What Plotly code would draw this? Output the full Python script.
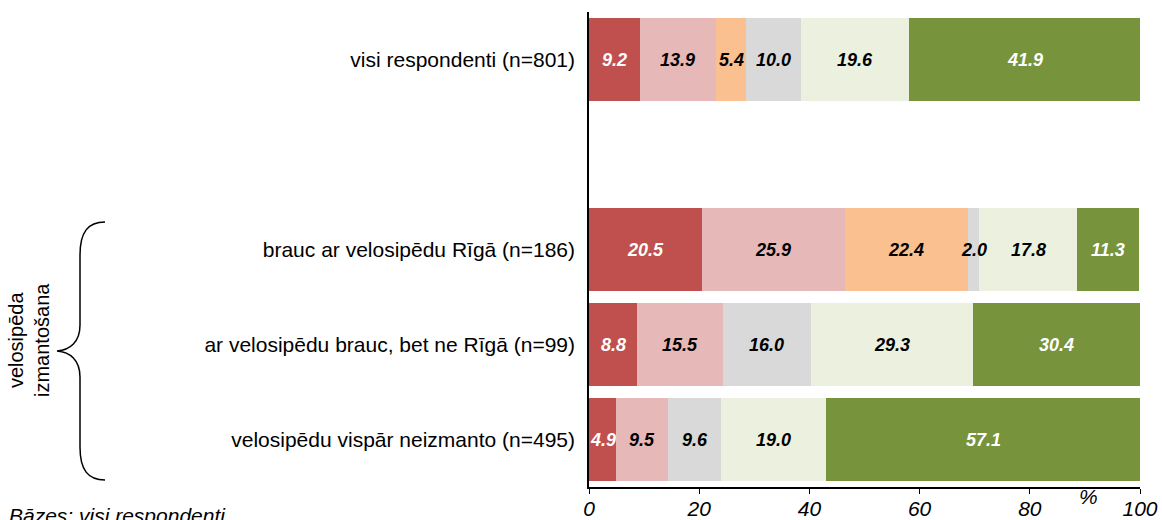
import plotly.graph_objects as go

categories = ["visi respondenti (n=801)", "", "brauc ar velosipēdu Rīgā (n=186)",
              "ar velosipēdu brauc, bet ne Rīgā (n=99)", "velosipēdu vispār neizmanto (n=495)"]
red = [9.2, None, 20.5, 8.8, 4.9]
pink = [13.9, None, 25.9, 15.5, 9.5]
orange = [5.4, None, 22.4, 0.0, 0.0]
gray = [10.0, None, 2.0, 16.0, 9.6]
lightgreen = [19.6, None, 17.8, 29.3, 19.0]
green = [41.9, None, 11.3, 30.4, 57.1]
x_ticks = [0, 20, 40, 60, 80, 100]

series = [(red, "#C0504D", "white"), (pink, "#E6B9B8", "black"), (orange, "#FAC090", "black"),
          (gray, "#D9D9D9", "black"), (lightgreen, "#EBF1DE", "black"), (green, "#77933C", "white")]

W, H = 1162, 520
ml, mr, mt, mb = 589, 22, 12, 33
pw, ph = W - ml - mr, H - mt - mb

ypos = [4, 3, 2, 1, 0]

fig = go.Figure()
annotations = []
cum = [0.0] * len(categories)
for vals, col, tcol in series:
    xs = [v if v is not None else 0 for v in vals]
    fig.add_trace(go.Bar(y=ypos, x=xs, orientation="h", marker=dict(color=col, line=dict(width=0)),
                         width=0.87, showlegend=False, hoverinfo="x"))
    for i, v in enumerate(vals):
        if v:
            annotations.append(dict(x=cum[i] + v / 2, y=ypos[i], xref="x", yref="y",
                                    text=f"<b><i>{v:.1f}</i></b>", showarrow=False,
                                    font=dict(family="Liberation Sans", size=18, color=tcol)))
            cum[i] += v


def px(x, y):
    return (x - ml) / pw, (H - mb - y) / ph


def P(x, y):
    a, b = px(x, y)
    return f"{a:.5f},{b:.5f}"


brace = ("M " + P(105, 222) + " C " + P(88, 222) + " " + P(80, 232) + " " + P(80, 255) +
         " L " + P(80, 325) + " C " + P(80, 342) + " " + P(70, 350) + " " + P(57, 351) +
         " C " + P(70, 352) + " " + P(80, 360) + " " + P(80, 377) +
         " L " + P(80, 447) + " C " + P(80, 470) + " " + P(88, 480) + " " + P(105, 480))

fig.add_shape(type="path", path=brace, xref="paper", yref="paper",
              line=dict(color="black", width=1.5))

tx, ty = px(29, 340)
annotations.append(dict(x=tx, y=ty, xref="paper", yref="paper", text="velosipēda<br>izmantošana",
                        showarrow=False, textangle=-90, xanchor="center", yanchor="middle",
                        font=dict(family="Liberation Sans", size=20, color="black")))
bx, by = px(7, 502)
annotations.append(dict(x=bx, y=by, xref="paper", yref="paper", text="<i>Bāzes: visi respondenti</i>",
                        showarrow=False, xanchor="left", yanchor="top",
                        font=dict(family="Liberation Sans", size=21, color="black")))
px_, py_ = px(1088, 496)
annotations.append(dict(x=px_, y=py_, xref="paper", yref="paper", text="<i>%</i>",
                        showarrow=False, xanchor="center", yanchor="middle",
                        font=dict(family="Liberation Sans", size=21, color="black")))

fig.update_layout(
    barmode="stack", width=W, height=H, margin=dict(l=ml, r=mr, t=mt, b=mb, autoexpand=False),
    plot_bgcolor="white", paper_bgcolor="white", annotations=annotations, bargap=0,
    xaxis=dict(range=[0, 100], tickvals=x_ticks, ticktext=[f"<i>{t}</i>" for t in x_ticks],
               showline=True, linecolor="black", linewidth=1.5, ticks="outside", ticklen=5,
               tickcolor="black", showgrid=False, zeroline=False, automargin=False,
               ticklabelstandoff=-3,
               tickfont=dict(family="Liberation Sans", size=21, color="black")),
    yaxis=dict(range=[-0.5, 4.5], tickvals=ypos, ticktext=categories, showline=True,
               linecolor="black", linewidth=1.5, ticks="outside", ticklen=8, automargin=False,
               tickcolor="rgba(0,0,0,0)", showgrid=False, zeroline=False,
               tickfont=dict(family="Liberation Sans", size=21, color="black")),
)

fig.write_html("out.html", config={"displayModeBar": False},
               post_script="document.body.style.margin='0';document.body.style.overflow='hidden';")
